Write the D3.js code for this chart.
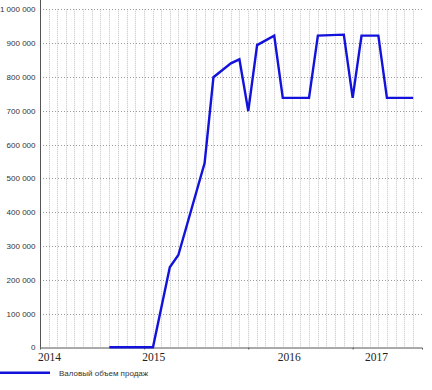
<!DOCTYPE html>
<html>
<head>
<meta charset="utf-8">
<script src="https://cdn.jsdelivr.net/npm/d3@7"></script>
<style>
  body { margin: 0; background: #fff; }
  svg { display: block; }
</style>
</head>
<body>
<div id="chart"></div>
<script>
// monthly vertices of the line (month, value)
const months = ["2014-09", "2015-02", "2015-04", "2015-05", "2015-08", "2015-09", "2015-11", "2015-12",
                "2016-01", "2016-02", "2016-04", "2016-05", "2016-08", "2016-09", "2016-12",
                "2017-01", "2017-02", "2017-04", "2017-05", "2017-08"];
const sales = [0, 0, 237000, 273000, 545000, 799000, 840000, 852000,
               699000, 894000, 922000, 738000, 738000, 922000, 925000,
               738000, 922000, 922000, 738000, 738000];
const yTicks = [0, 100000, 200000, 300000, 400000, 500000, 600000, 700000, 800000, 900000, 1000000];
const yearLabels = ["2014", "2015", "2016", "2017"];
const yearLabelDates = ["2014-01-01", "2015-01-01", "2016-04-20", "2017-02-20"];
const seriesName = "Валовый объем продаж";

const width = 432, height = 390;
const mLeft = 40, mRight = 422, mTop = 9.3, mBottom = 347.3;
const parse = d3.timeParse("%Y-%m");
const parseDay = d3.timeParse("%Y-%m-%d");

const data = months.map((m, i) => ({ date: parse(m), value: sales[i] }));

const x = d3.scaleTime()
    .domain([parse("2014-01"), parse("2017-09")])
    .range([mLeft, mRight]);
const y = d3.scaleLinear()
    .domain([0, 1000000])
    .range([mBottom, mTop]);

const svg = d3.select("#chart")
    .append("svg")
    .attr("width", width)
    .attr("height", height);

// vertical month grid
const gridMonths = d3.timeMonth.range(parse("2014-02"), parse("2017-09"));
svg.append("g")
    .selectAll("line")
    .data(gridMonths)
    .enter()
    .append("line")
    .attr("x1", d => Math.round(x(d)) + 0.5)
    .attr("x2", d => Math.round(x(d)) + 0.5)
    .attr("y1", mTop)
    .attr("y2", mBottom)
    .attr("stroke", "#c4c4c4")
    .attr("stroke-dasharray", "1,1");

// horizontal value grid
svg.append("g")
    .selectAll("line")
    .data(yTicks.slice(1))
    .enter()
    .append("line")
    .attr("x1", mLeft)
    .attr("x2", mRight)
    .attr("y1", d => Math.round(y(d)) + 0.5)
    .attr("y2", d => Math.round(y(d)) + 0.5)
    .attr("stroke", "#9a9a9a")
    .attr("stroke-dasharray", "1,2");

// y axis
const yAxis = svg.append("g")
    .attr("transform", "translate(" + (mLeft + 0.5) + ",0)")
    .call(d3.axisLeft(y)
        .tickValues(yTicks)
        .tickSize(0)
        .tickPadding(5)
        .tickFormat(d => d3.format(",")(d).replace(/,/g, " ")));
yAxis.select(".domain").attr("stroke", "#555").attr("d", "M0,0V" + (mBottom + 0.5));
yAxis.selectAll("text")
    .attr("fill", "#333")
    .style("font-family", "'Liberation Sans', Arial, sans-serif")
    .style("font-size", "8px");

// x axis
const xAxis = svg.append("g")
    .attr("transform", "translate(0," + (Math.round(mBottom) + 0.5) + ")")
    .call(d3.axisBottom(x)
        .tickValues(yearLabels.slice(1).map(d => parse(d + "-01")))
        .tickSize(2)
        .tickFormat(""));
xAxis.select(".domain").attr("stroke", "#555");
xAxis.selectAll(".tick line").attr("stroke", "#555");

svg.append("g")
    .selectAll("text")
    .data(yearLabels)
    .enter()
    .append("text")
    .attr("x", (d, i) => x(parseDay(yearLabelDates[i])) - 2)
    .attr("y", 361)
    .attr("fill", "#222")
    .style("font-family", "'Liberation Serif', 'Times New Roman', serif")
    .style("font-size", "11.5px")
    .text(d => d);

// series line
const line = d3.line()
    .x(d => x(d.date))
    .y(d => y(d.value));

svg.append("path")
    .datum(data)
    .attr("fill", "none")
    .attr("stroke", "#1212dc")
    .attr("stroke-width", 2.4)
    .attr("stroke-linejoin", "miter")
    .attr("d", line);

// legend
svg.append("line")
    .attr("x1", 0)
    .attr("x2", 50)
    .attr("y1", 372.7)
    .attr("y2", 372.7)
    .attr("stroke", "#1212dc")
    .attr("stroke-width", 2.6);
svg.append("text")
    .attr("x", 59)
    .attr("y", 375.5)
    .attr("fill", "#333")
    .style("font-family", "'Liberation Sans', Arial, sans-serif")
    .style("font-size", "8px")
    .text(seriesName);
</script>
</body>
</html>
